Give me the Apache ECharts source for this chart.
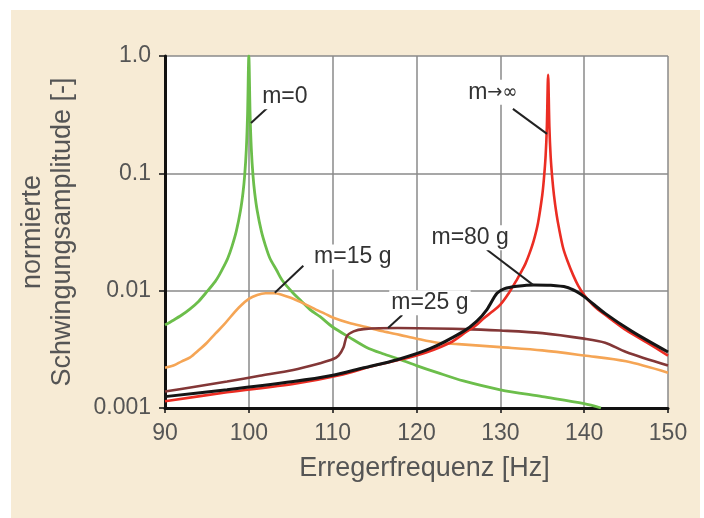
<!DOCTYPE html>
<html>
<head>
<meta charset="utf-8">
<script src="https://cdn.jsdelivr.net/npm/echarts@6/dist/echarts.min.js"></script>
<style>
  body { margin: 0; background: #fff; }
  #paper { position: absolute; left: 11px; top: 10px; width: 689px; height: 508px; background: #f7ebd5; }
  #chart { position: absolute; left: 0; top: 0; width: 704px; height: 518px; }
</style>
</head>
<body>
<div id="paper"></div>
<div id="chart"></div>
<script>
// x ticks / y ticks
const xTicks = [90, 100, 110, 120, 130, 140, 150];
const yTickLabels = ["0.001", "0.01", "0.1", "1.0"];

// [frequency Hz, normalised amplitude]
const mZero = [
  [90, 0.0051], [91, 0.0056], [92, 0.0062], [93, 0.007], [94, 0.0081],
  [95, 0.0098], [96, 0.012], [96.5, 0.0137], [97, 0.016], [97.5, 0.019],
  [98, 0.024], [98.5, 0.032], [99, 0.048], [99.3, 0.068], [99.5, 0.095],
  [99.7, 0.16], [99.85, 0.32], [100, 1.0], [100.15, 0.32], [100.3, 0.16],
  [100.5, 0.095], [100.7, 0.068], [101, 0.048], [101.5, 0.032], [102, 0.024],
  [102.5, 0.019], [103.3, 0.015], [104, 0.0122], [105.3, 0.0095], [106.3, 0.0081],
  [107.3, 0.0069], [108.5, 0.006], [110, 0.0049], [112, 0.004], [114, 0.0033],
  [116, 0.0029], [118, 0.0026], [120, 0.0023], [122.5, 0.002], [125.6, 0.0017],
  [130, 0.00143], [135, 0.00125], [140, 0.00109], [142, 0.001]
];
const m15 = [
  [90, 0.0022], [91, 0.0023], [92, 0.0025], [93, 0.0027], [94, 0.0031],
  [95, 0.0036], [96, 0.0043], [97, 0.0051], [98, 0.0062], [99, 0.0074],
  [100, 0.0085], [101, 0.0092], [102, 0.0095], [103, 0.0095], [104, 0.0092],
  [105, 0.0087], [106, 0.0081], [107, 0.0075], [108, 0.0069], [109, 0.0064],
  [110, 0.0059], [112, 0.0053], [114, 0.0049], [116, 0.0045], [118, 0.0042],
  [120, 0.0039], [122.5, 0.0036], [125, 0.0035], [130, 0.0033], [135, 0.0031],
  [140, 0.0028], [145, 0.0025], [150, 0.002]
];
const m25 = [
  [90, 0.00138], [93.4, 0.00151], [97.4, 0.00168], [101.3, 0.00188],
  [105.3, 0.00211], [108.5, 0.00241], [110, 0.0026], [110.7, 0.0028],
  [111.3, 0.0033], [111.7, 0.0041], [112.5, 0.0045], [113.7, 0.0047],
  [117.7, 0.0048], [125.6, 0.0047], [130, 0.00457], [135, 0.00435],
  [140, 0.0039], [142.5, 0.0036], [145, 0.003], [150, 0.0023]
];
const m80 = [
  [90, 0.00125], [97.4, 0.00143], [105.3, 0.00168], [109.7, 0.00188],
  [113.7, 0.0022], [117.7, 0.00258], [121.6, 0.0032], [125.6, 0.0045],
  [127.2, 0.0055], [128.4, 0.0069], [129.6, 0.0095], [130.5, 0.0104],
  [132, 0.0109], [134, 0.0112], [136, 0.0111], [137.9, 0.0107], [139, 0.0099],
  [140, 0.0089], [142.5, 0.0064], [145.7, 0.0045], [150, 0.003]
];
const mInf = [
  [90, 0.00114], [97.4, 0.00136], [105.3, 0.0016], [110.8, 0.0019], [115, 0.0023],
  [120, 0.0028], [124, 0.0036], [126, 0.0045], [127, 0.005], [128, 0.0058],
  [129, 0.0066], [130, 0.0076], [131, 0.0095], [132, 0.0125], [132.5, 0.0145],
  [133, 0.017], [133.5, 0.021], [134, 0.027], [134.5, 0.038], [135, 0.065],
  [135.2, 0.09], [135.4, 0.14], [135.55, 0.25], [135.7, 0.69], [135.85, 0.25],
  [136, 0.14], [136.2, 0.09], [136.4, 0.065], [136.7, 0.045], [137, 0.034],
  [137.5, 0.023], [138, 0.018], [138.7, 0.0135], [139.3, 0.011], [140, 0.0092],
  [141, 0.0076], [142, 0.0066], [143.5, 0.0055], [145, 0.0046], [147.5, 0.0036],
  [150, 0.0028]
];

// annotation texts and their pointer lines, in data coordinates
const noteText = ["m=0", "m\u2192\u221e", "m=15 g", "m=25 g", "m=80 g"];
const noteAt = [[104.3, 0.45], [129.1, 0.49], [112.4, 0.0194], [121.6, 0.0079], [126.4, 0.0282]];
const pointers = [
  [[102.2, 0.36], [100.26, 0.269]],
  [[131.5, 0.354], [135.57, 0.217]],
  [[106.5, 0.0163], [103.1, 0.0096]],
  [[118.3, 0.0062], [116.6, 0.0048]],
  [[128.4, 0.0223], [133.9, 0.0112]]
];

const font = "'Liberation Sans', Arial, sans-serif";
const chart = echarts.init(document.getElementById("chart"));

function curve(data, color, width) {
  return {
    type: "line",
    data: data,
    showSymbol: false,
    smooth: 0.3,
    clip: true,
    lineStyle: { color: color, width: width },
    animation: false
  };
}

const option = {
  backgroundColor: "transparent",
  grid: {
    left: 165, top: 56, right: 36, bottom: 110,
    show: true, backgroundColor: "#fff", borderWidth: 0
  },
  xAxis: {
    type: "value",
    min: 90, max: 150, interval: 10,
    name: "Erregerfrequenz [Hz]",
    nameLocation: "middle",
    nameGap: 47,
    nameTextStyle: { fontFamily: font, fontSize: 27, color: "#555", padding: [0, 0, 0, 16] },
    axisLine: { lineStyle: { color: "#111", width: 3 } },
    axisTick: { show: true, length: 5, lineStyle: { color: "#111", width: 1.5 } },
    axisLabel: {
      margin: 14, fontFamily: font, fontSize: 23, color: "#555",
      formatter: (v) => (xTicks.includes(v) ? String(v) : "")
    },
    splitLine: { show: true, lineStyle: { color: "#8a8a8a", width: 1.5 } }
  },
  yAxis: {
    type: "log",
    logBase: 10,
    min: 0.001, max: 1,
    name: "normierte\nSchwingungsamplitude [-]",
    nameLocation: "middle",
    nameRotate: 90,
    nameGap: 87,
    nameTextStyle: { fontFamily: font, fontSize: 27, color: "#555", lineHeight: 30 },
    axisLine: { show: true, lineStyle: { color: "#111", width: 3 } },
    axisTick: { show: true, length: 6, lineStyle: { color: "#111", width: 1.5 } },
    axisLabel: {
      margin: 14, fontFamily: font, fontSize: 23, color: "#555",
      formatter: (v, i) => yTickLabels[i]
    },
    splitLine: { show: true, lineStyle: { color: "#8a8a8a", width: 1.5 } }
  },
  series: [
    curve(mZero, "#6cbe4b", 2.8),
    curve(m15, "#f5a555", 2.6),
    curve(m25, "#833737", 2.6),
    curve(mInf, "#eb2d23", 2.6),
    curve(m80, "#151515", 3),
    {
      type: "line",
      data: [],
      z: 10,
      animation: false,
      markLine: {
        silent: true,
        symbol: ["none", "none"],
        label: { show: false },
        lineStyle: { color: "#222", width: 2, type: "solid" },
        data: pointers.map((p) => [{ coord: p[0] }, { coord: p[1] }])
      },
      markPoint: {
        silent: true,
        symbol: "rect",
        symbolSize: 1,
        itemStyle: { color: "rgba(0,0,0,0)" },
        label: {
          show: true, position: "inside",
          formatter: (p) => p.name.startsWith("m\u2192")
            ? "{a|m}{b|" + p.name.slice(1) + "}"
            : p.name,
          fontFamily: font, fontSize: 23, color: "#333",
          backgroundColor: "#fff", padding: [1, 2],
          rich: {
            a: { fontFamily: font, fontSize: 23, color: "#333" },
            b: { fontFamily: "'DejaVu Sans Condensed', 'DejaVu Sans'", fontSize: 20, color: "#333" }
          }
        },
        data: noteText.map((t, i) => ({ name: t, coord: noteAt[i] }))
      }
    }
  ]
};
chart.setOption(option);
</script>
</body>
</html>
